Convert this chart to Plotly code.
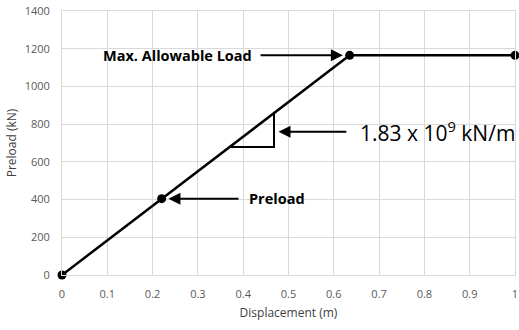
import plotly.graph_objects as go

displacement = [0, 0.22, 0.635, 1.0]
preload = [0, 405, 1165, 1165]

x_ticks = [0, 0.1, 0.2, 0.3, 0.4, 0.5, 0.6, 0.7, 0.8, 0.9, 1.0]
x_tick_labels = ["0", "0.1", "0.2", "0.3", "0.4", "0.5", "0.6", "0.7", "0.8", "0.9", "1"]

slope_tri_x = [0.37, 0.468, 0.468]
slope_tri_y = [679, 679, 859]

fig = go.Figure()
fig.add_trace(go.Scatter(
    x=slope_tri_x, y=slope_tri_y, mode="lines",
    line=dict(color="black", width=2), hoverinfo="skip", showlegend=False))
fig.add_trace(go.Scatter(
    x=displacement, y=preload, mode="lines+markers",
    line=dict(color="black", width=2.5),
    marker=dict(color="black", size=9),
    cliponaxis=False, showlegend=False))

grid = "#d9d9d9"
tickfont = dict(family="Open Sans", size=11, color="#595959")
titlefont = dict(family="Open Sans", size=12, color="#404040")
fig.update_xaxes(range=[0, 1], tickvals=x_ticks, ticktext=x_tick_labels,
                 showgrid=True, gridcolor=grid, gridwidth=1, zeroline=False,
                 showline=True, linecolor=grid, mirror=True, tickfont=tickfont,
                 ticks="outside", ticklen=9, tickcolor="rgba(0,0,0,0)", automargin=False,
                 ticklabeloverflow="allow",
                 title=dict(text="Displacement (m)", font=titlefont, standoff=8))
fig.update_yaxes(range=[0, 1400], dtick=200,
                 showgrid=True, gridcolor=grid, gridwidth=1, zeroline=False,
                 showline=True, linecolor=grid, mirror=True, tickfont=tickfont,
                 ticks="outside", ticklen=9, tickcolor="rgba(0,0,0,0)", automargin=False,
                 ticklabeloverflow="allow",
                 title=dict(text="Preload (kN)", font=titlefont, standoff=5))

ann_font = dict(family="Open Sans", size=14.5, color="black")
fig.add_annotation(x=0.62, y=1165, ax=0.435, ay=1165, xref="x", yref="y", axref="x", ayref="y",
                   showarrow=True, arrowhead=2, arrowsize=1.2, arrowwidth=2, arrowcolor="black", text="")
fig.add_annotation(x=0.424, y=1165, xref="x", yref="y", showarrow=False, xanchor="right",
                   text="<b>Max. Allowable Load</b>", font=ann_font)
fig.add_annotation(x=0.235, y=405, ax=0.393, ay=405, xref="x", yref="y", axref="x", ayref="y",
                   showarrow=True, arrowhead=2, arrowsize=1.2, arrowwidth=2, arrowcolor="black", text="")
fig.add_annotation(x=0.408, y=405, xref="x", yref="y", showarrow=False, xanchor="left",
                   text="<b>Preload</b>", font=ann_font)
fig.add_annotation(x=0.478, y=760, ax=0.631, ay=760, xref="x", yref="y", axref="x", ayref="y",
                   showarrow=True, arrowhead=2, arrowsize=1.2, arrowwidth=2, arrowcolor="black", text="")
fig.add_annotation(x=0.654, y=760, xref="x", yref="y", showarrow=False, xanchor="left",
                   text="1.83 x 10<sup>9</sup> kN/m", font=dict(family="Open Sans", size=21, color="black"))

fig.update_layout(width=519, height=330, margin=dict(l=62, r=4, t=11, b=55),
                  paper_bgcolor="white", plot_bgcolor="white")
# remove the default 8px page margin so the figure fills the window exactly
fig.write_html("out.html", config={"displayModeBar": False},
               post_script="document.body.style.margin='0';document.body.style.overflow='hidden';")
